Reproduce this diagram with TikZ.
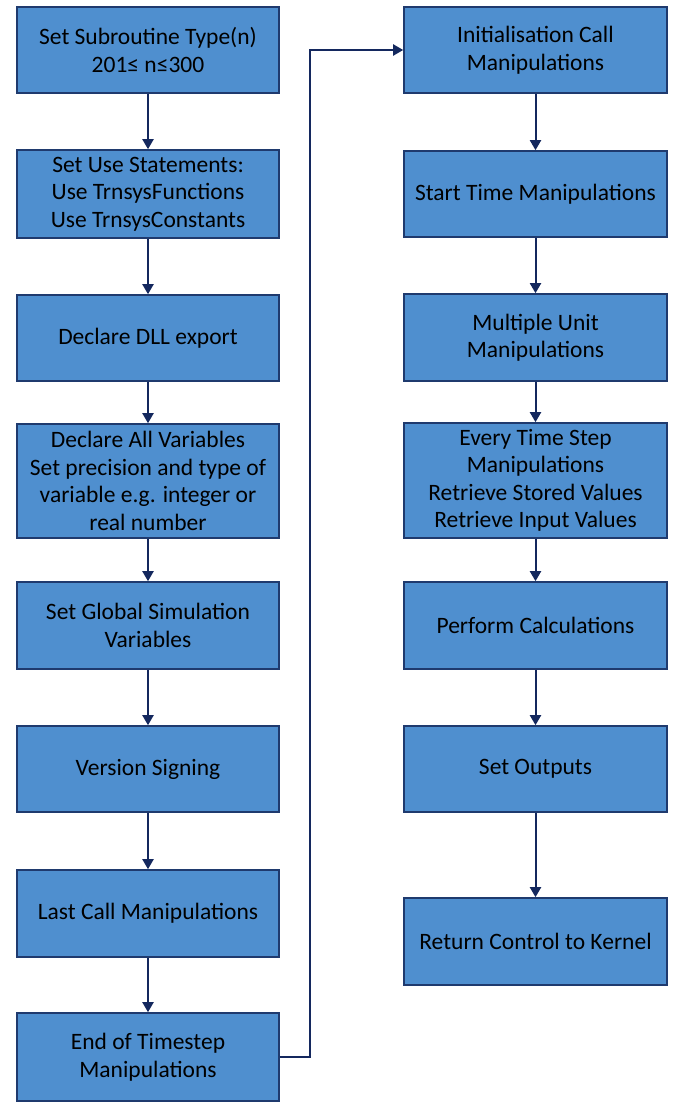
\documentclass[tikz,border=0pt]{standalone}
\usepackage{fontspec}
\setmainfont{Carlito}
\usetikzlibrary{arrows.meta}
\definecolor{boxfill}{HTML}{4F8FCF}
\definecolor{boxline}{HTML}{1F3A6E}
\definecolor{arrowc}{HTML}{14285E}
\begin{document}
\begin{tikzpicture}[x=1pt,y=-1pt,
  stepbox/.style={draw=boxline,line width=1.6pt,fill=boxfill,align=center,
    font=\fontsize{23.5}{27.5}\selectfont,text=black,inner sep=0pt,
    minimum width=262pt},
  conn/.style={draw=arrowc,line width=2pt,-{Triangle[width=11pt,length=10pt]}}]
\useasboundingbox (0,0) rectangle (677,1102);
% left column
\node[stepbox,minimum height=86pt] (l1) at (148,50) {Set Subroutine Type(n)\\201≤ n≤300};
\node[stepbox,minimum height=88pt] (l2) at (148,194) {Set Use Statements:\\Use TrnsysFunctions\\Use TrnsysConstants};
\node[stepbox,minimum height=86pt] (l3) at (148,338) {Declare DLL export};
\node[stepbox,minimum height=114pt] (l4) at (148,481) {Declare All Variables\\Set precision and type of\\variable e.g. integer or\\real number};
\node[stepbox,minimum height=87pt] (l5) at (148,625.5) {Set Global Simulation\\Variables};
\node[stepbox,minimum height=86pt] (l6) at (148,769) {Version Signing};
\node[stepbox,minimum height=87pt] (l7) at (148,913.5) {Last Call Manipulations};
\node[stepbox,minimum height=88pt] (l8) at (148,1057) {End of Timestep\\Manipulations};
% right column
\node[stepbox,minimum width=263pt,minimum height=86pt] (r1) at (535.5,50) {Initialisation Call\\Manipulations};
\node[stepbox,minimum width=263pt,minimum height=86pt] (r2) at (535.5,194) {Start Time Manipulations};
\node[stepbox,minimum width=263pt,minimum height=87pt] (r3) at (535.5,337.5) {Multiple Unit\\Manipulations};
\node[stepbox,minimum width=263pt,minimum height=115pt] (r4) at (535.5,480.5) {Every Time Step\\Manipulations\\Retrieve Stored Values\\Retrieve Input Values};
\node[stepbox,minimum width=263pt,minimum height=87pt] (r5) at (535.5,625.5) {Perform Calculations};
\node[stepbox,minimum width=263pt,minimum height=86pt] (r6) at (535.5,769) {Set Outputs};
\node[stepbox,minimum width=263pt,minimum height=87pt] (r7) at (535.5,941.5) {Return Control to Kernel};
% connectors
\draw[conn] (l1) -- (l2);
\draw[conn] (l2) -- (l3);
\draw[conn] (l3) -- (l4);
\draw[conn] (l4) -- (l5);
\draw[conn] (l5) -- (l6);
\draw[conn] (l6) -- (l7);
\draw[conn] (l7) -- (l8);
\coordinate (c1) at (310,1057);
\coordinate (c2) at (310,50);
\draw[conn] (l8.east) -- (c1) -- (c2) -- (r1.west);
\draw[conn] (r1) -- (r2);
\draw[conn] (r2) -- (r3);
\draw[conn] (r3) -- (r4);
\draw[conn] (r4) -- (r5);
\draw[conn] (r5) -- (r6);
\draw[conn] (r6) -- (r7);
\end{tikzpicture}
\end{document}
